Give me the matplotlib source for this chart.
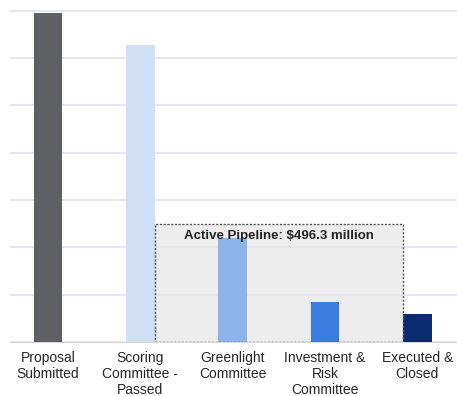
import matplotlib
matplotlib.use("Agg")
import matplotlib.pyplot as plt
from matplotlib.patches import Rectangle
import numpy as np

# Pipeline stages and their dollar volumes ($ millions)
stages = ["Proposal\nSubmitted", "Scoring\nCommittee -\nPassed", "Greenlight\nCommittee",
          "Investment &\nRisk\nCommittee", "Executed &\nClosed"]
values = [1134.0, 1024.0, 358.0, 138.3, 96.0]
colors = ["#5f6065", "#cfdff5", "#8cb4ea", "#3a7de0", "#0b2b6f"]
pipeline_label = "Active Pipeline: $496.3 million"
grid_step = 163.0

plt.rcParams["font.family"] = ["Liberation Sans", "DejaVu Sans"]

fig = plt.figure(figsize=(4.57, 3.96), dpi=100)
ax = fig.add_axes([10 / 457, 54 / 396, 447 / 457, 333 / 396])

x = np.arange(len(stages))
bar_w = 0.31
ax.bar(x, values, width=bar_w, color=colors, zorder=3)

ax.set_xlim(-0.41, 4.43)
ax.set_ylim(0, grid_step * 7.04)
ax.set_yticks(np.arange(0, grid_step * 7 + 1, grid_step))
ax.yaxis.grid(True, color="#dfe4f2", linewidth=1.2, zorder=0)
ax.set_axisbelow(True)
ax.tick_params(axis="y", left=False, labelleft=False)
ax.tick_params(axis="x", bottom=False, pad=3)
ax.set_xticks(x)
ax.set_xticklabels(stages, fontsize=10, color="#262626", linespacing=1.2)
for s in ["top", "right", "left"]:
    ax.spines[s].set_visible(False)
ax.spines["bottom"].set_color("#d9d9d9")

# Shaded box marking the active pipeline stages
box_left = 1 + bar_w / 2
box_right = 4 - bar_w / 2
box_top = grid_step * 2.49
ax.add_patch(Rectangle((box_left, 0), box_right - box_left, box_top,
                       facecolor="#e6e6e6", alpha=0.7, edgecolor="none", zorder=2))
ax.add_patch(Rectangle((box_left, 0), box_right - box_left, box_top,
                       facecolor="none", edgecolor="#555555", linestyle=(0, (1.5, 1.2)),
                       linewidth=1.0, zorder=4))
ax.text((box_left + box_right) / 2, grid_step * 2.24, pipeline_label,
        ha="center", va="center", fontsize=9.5, fontweight="bold",
        color="#222222", zorder=5)

fig.savefig("out.png", dpi=100)
